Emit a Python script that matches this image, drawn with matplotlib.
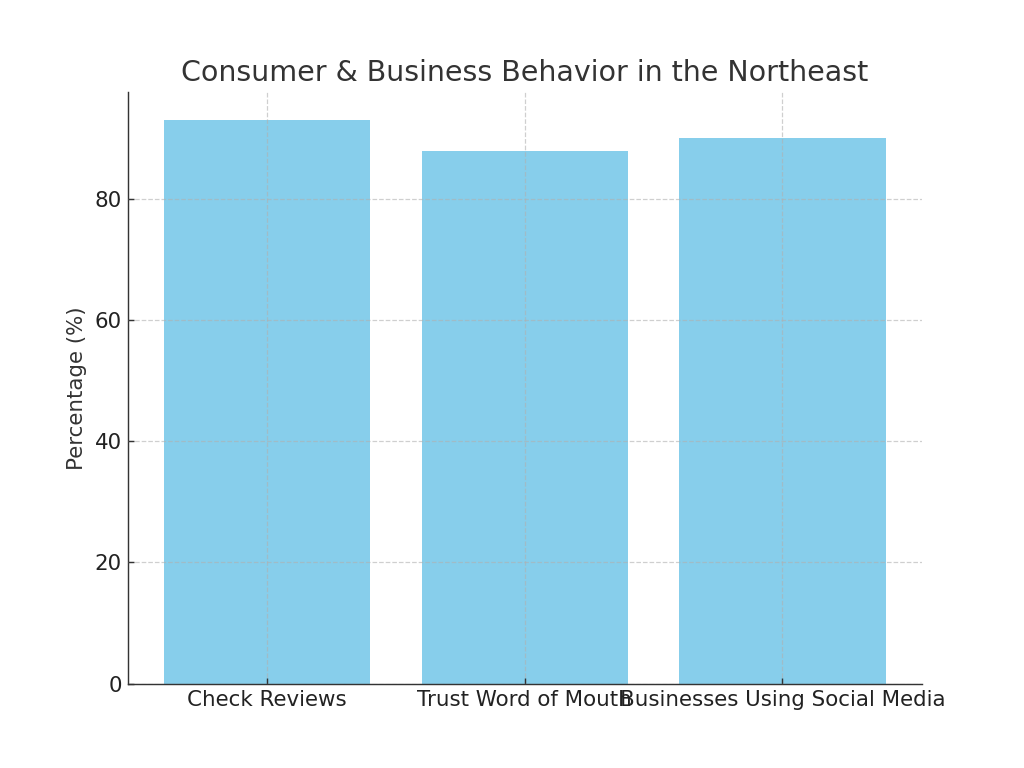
import matplotlib
matplotlib.use("Agg")
import matplotlib.pyplot as plt

categorias = ["Check Reviews", "Trust Word of Mouth", "Businesses Using Social Media"]
percentuais = [93, 88, 90]

cor_texto = "#333333"

plt.rcParams['font.family'] = ['DejaVu Sans']

fig, ax = plt.subplots(figsize=(8, 6), dpi=128)

ax.bar(categorias, percentuais, color="skyblue")

ax.set_title("Consumer & Business Behavior in the Northeast", fontsize=16, color=cor_texto)
ax.set_ylabel("Percentage (%)", fontsize=12, color=cor_texto)

# ticks para dentro nos dois eixos
ax.tick_params(axis='both', direction='in', labelsize=12, labelcolor="#222222", color=cor_texto)
# grade por cima das barras
ax.set_axisbelow(False)
ax.grid(True, linestyle='--', color='#b0b0b0', linewidth=0.7, alpha=0.6)

# esconder bordas de cima e da direita
ax.spines['top'].set_visible(False)
ax.spines['right'].set_visible(False)
ax.spines['left'].set_color(cor_texto)
ax.spines['bottom'].set_color(cor_texto)

fig.savefig("out.png", dpi=128)
